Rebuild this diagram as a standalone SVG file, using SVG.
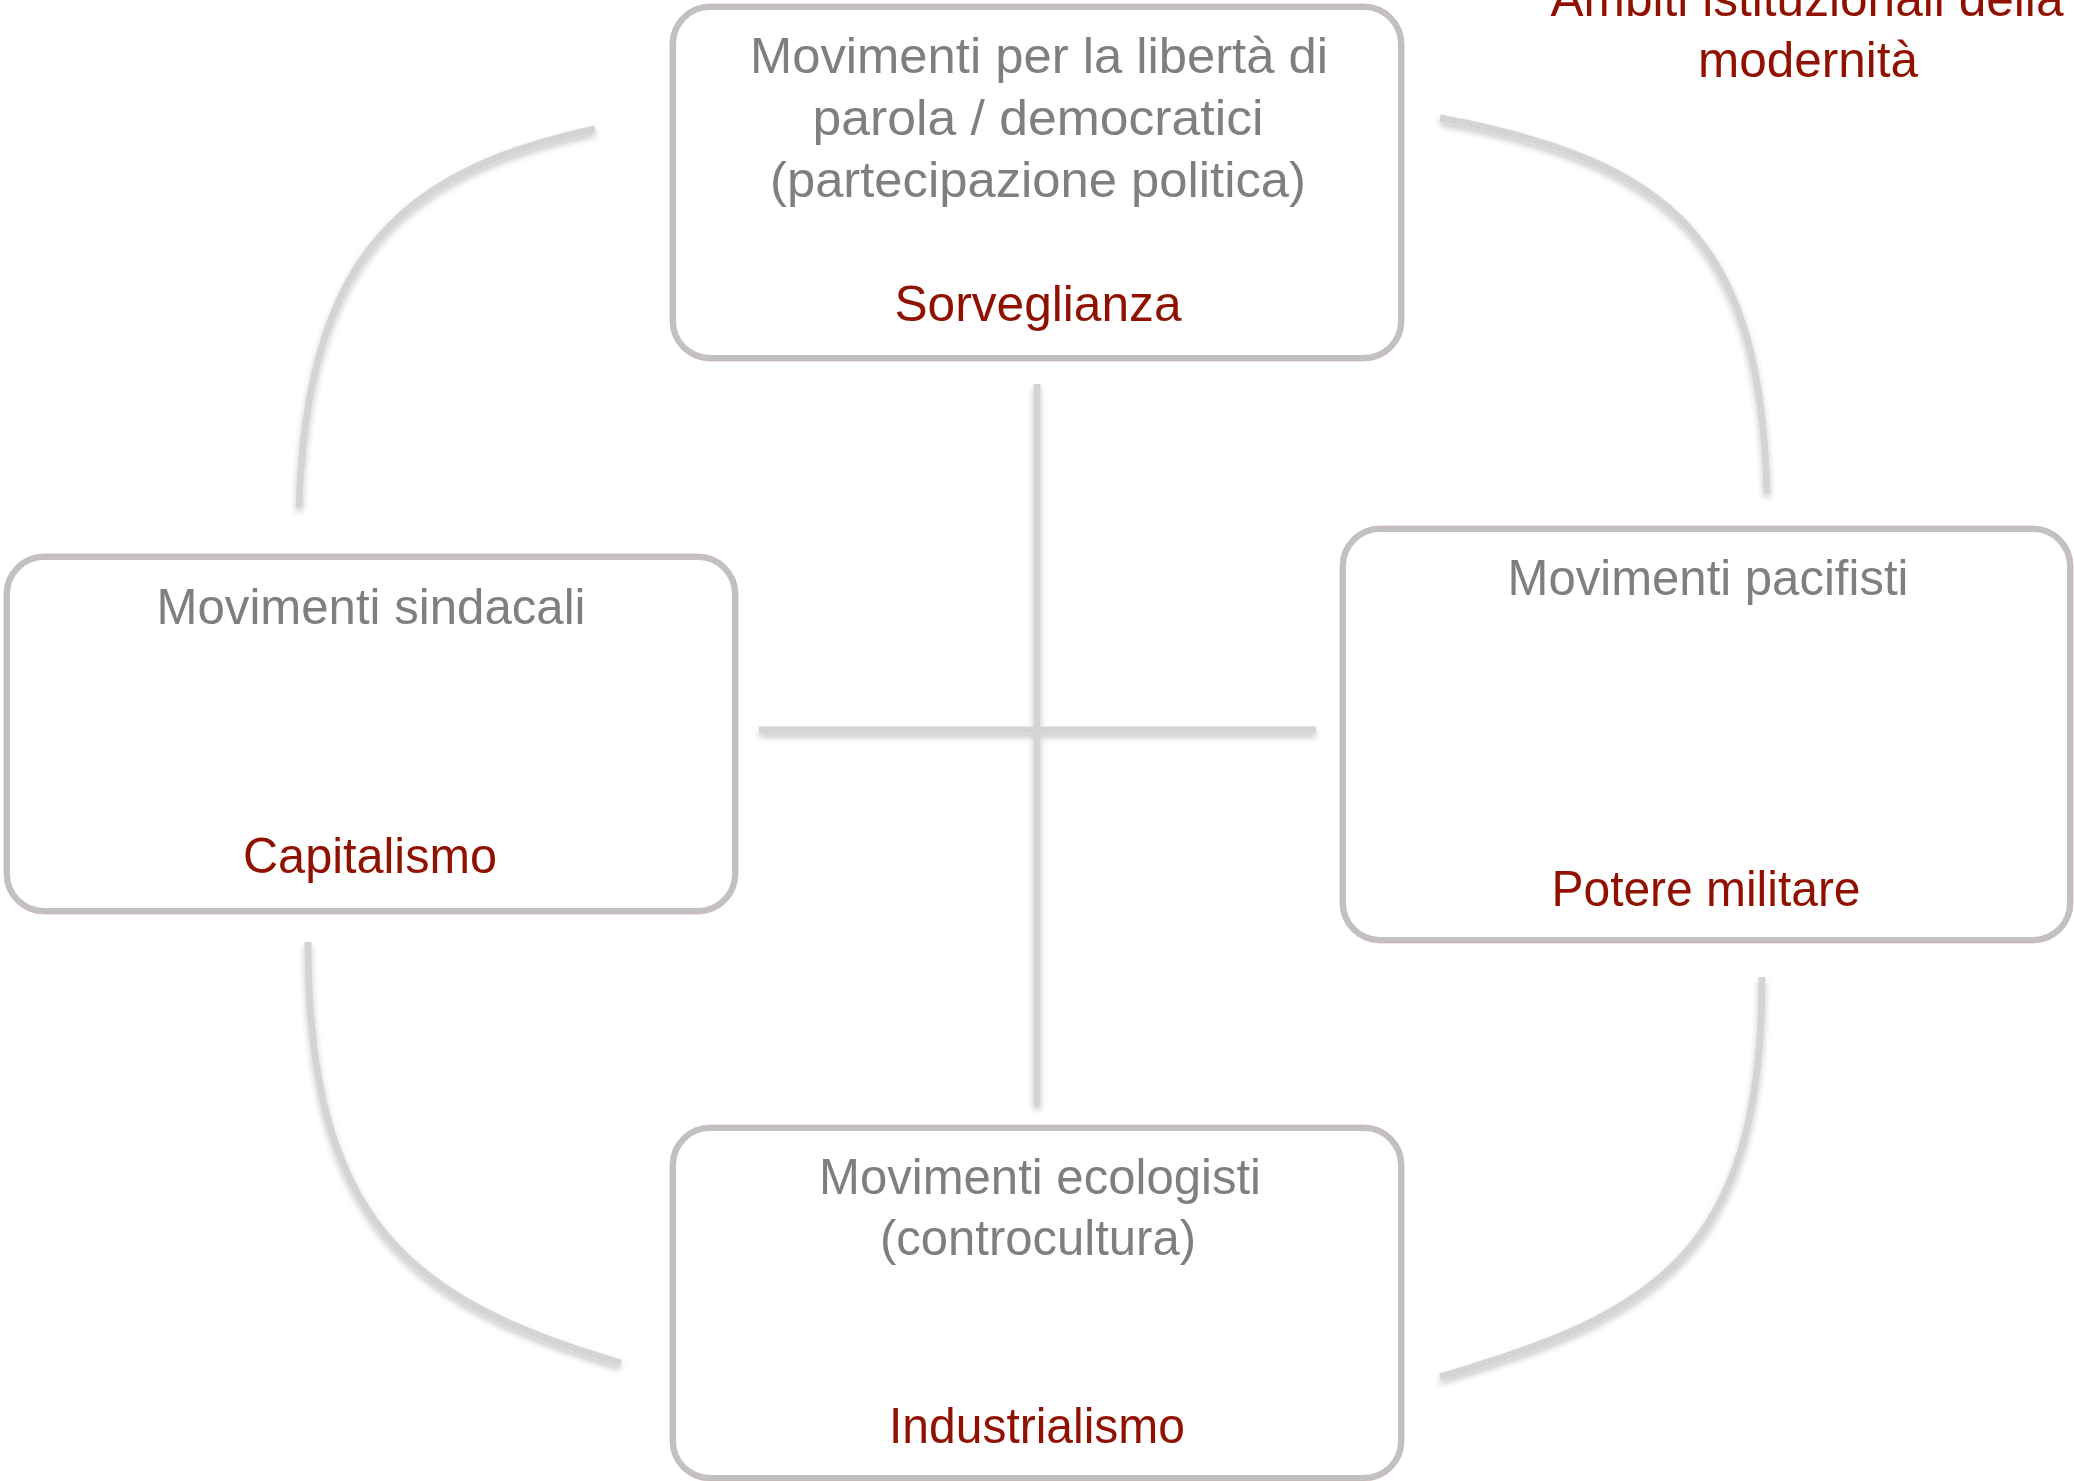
<svg xmlns="http://www.w3.org/2000/svg" width="2074" height="1481" viewBox="0 0 2074 1481">
<style>
  .box { fill: #ffffff; stroke: #c2c0c0; stroke-width: 6; }
  .boxedge { fill: none; stroke: #c9a8a8; stroke-width: 1; opacity: 0.6; }
  .t { font-family: "Liberation Sans", "DejaVu Sans", sans-serif; font-size: 50px; text-anchor: middle; }
  .g { fill: #7f7f7f; }
  .r { fill: #911100; }
  .conn { fill: none; stroke: #d4d4d4; stroke-width: 7; stroke-linecap: butt; }
</style>
<defs>
  <filter id="sh" x="-20%" y="-20%" width="140%" height="140%">
    <feDropShadow dx="0" dy="4" stdDeviation="3" flood-color="#000000" flood-opacity="0.22"/>
  </filter>
</defs>
<rect width="2074" height="1481" fill="#ffffff"/>

<g id="connectors" filter="url(#sh)">
  <path class="conn" d="M1037,384 L1037,1106"/>
  <path class="conn" d="M759,730 L1316,730"/>
  <path class="conn" d="M595,129 C400,171 307,257 299,507"/>
  <path class="conn" d="M1440,118 C1676,162 1760,243 1767,493"/>
  <path class="conn" d="M308,942 C308,1222 410,1301 621,1363"/>
  <path class="conn" d="M1762,977 C1762,1257 1651,1315 1440,1377"/>
</g>

<g id="title">
  <text class="t r" x="1807" y="16" textLength="513" lengthAdjust="spacingAndGlyphs">Ambiti istituzionali della</text>
  <text class="t r" x="1808" y="77" textLength="220" lengthAdjust="spacingAndGlyphs">modernità</text>
</g>

<g id="node-sorveglianza">
  <rect class="box" x="673" y="7" width="728" height="351" rx="37" ry="37"/>
  <rect class="boxedge" x="670" y="4" width="734" height="357" rx="40" ry="40"/>
  <text class="t g" x="1039" y="73" textLength="578" lengthAdjust="spacingAndGlyphs">Movimenti per la libertà di</text>
  <text class="t g" x="1038" y="135" textLength="451" lengthAdjust="spacingAndGlyphs">parola / democratici</text>
  <text class="t g" x="1038" y="197" textLength="536" lengthAdjust="spacingAndGlyphs">(partecipazione politica)</text>
  <text class="t r" x="1038" y="321" textLength="287" lengthAdjust="spacingAndGlyphs">Sorveglianza</text>
</g>

<g id="node-capitalismo">
  <rect class="box" x="7" y="557" width="728" height="354" rx="37" ry="37"/>
  <rect class="boxedge" x="4" y="554" width="734" height="360" rx="40" ry="40"/>
  <text class="t g" x="371" y="624" textLength="429" lengthAdjust="spacingAndGlyphs">Movimenti sindacali</text>
  <text class="t r" x="370" y="873" textLength="254" lengthAdjust="spacingAndGlyphs">Capitalismo</text>
</g>

<g id="node-potere-militare">
  <rect class="box" x="1343" y="529" width="727" height="411" rx="37" ry="37"/>
  <rect class="boxedge" x="1340" y="526" width="733" height="417" rx="40" ry="40"/>
  <text class="t g" x="1708" y="595" textLength="401" lengthAdjust="spacingAndGlyphs">Movimenti pacifisti</text>
  <text class="t r" x="1706" y="906" textLength="309" lengthAdjust="spacingAndGlyphs">Potere militare</text>
</g>

<g id="node-industrialismo">
  <rect class="box" x="673" y="1128" width="728" height="350" rx="37" ry="37"/>
  <rect class="boxedge" x="670" y="1125" width="734" height="356" rx="40" ry="40"/>
  <text class="t g" x="1040" y="1194" textLength="442" lengthAdjust="spacingAndGlyphs">Movimenti ecologisti</text>
  <text class="t g" x="1038" y="1255" textLength="316" lengthAdjust="spacingAndGlyphs">(controcultura)</text>
  <text class="t r" x="1037" y="1443" textLength="296" lengthAdjust="spacingAndGlyphs">Industrialismo</text>
</g>
</svg>
